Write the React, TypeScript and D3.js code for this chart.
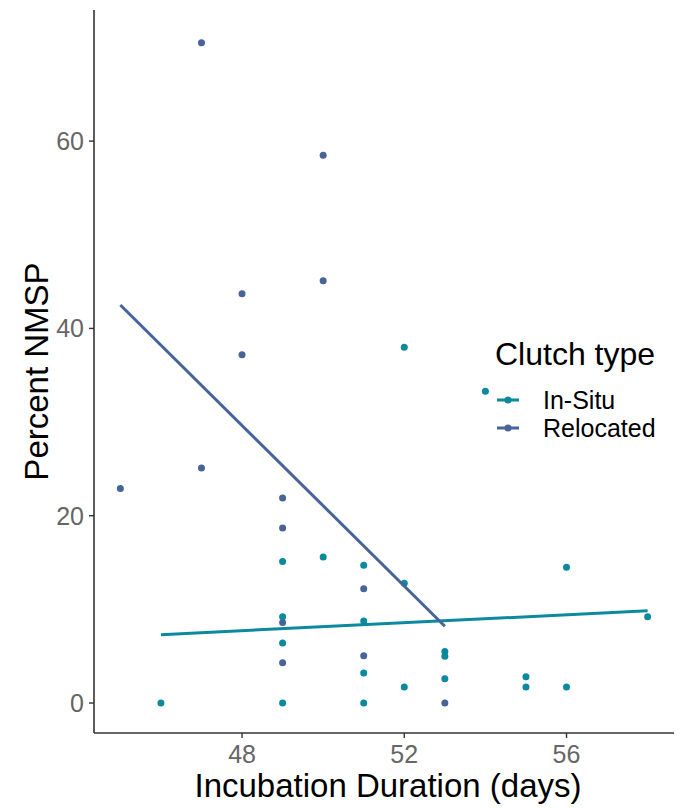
import React from 'react';
import * as d3 from 'd3';

// In-Situ clutches
const inSituX = [46, 49, 49, 49, 49, 50, 51, 51, 51, 51, 52, 52, 52, 53, 53, 53, 54, 55, 55, 56, 56, 58];
const inSituY = [0, 15.1, 9.2, 6.4, 0, 15.6, 14.7, 8.75, 3.2, 0, 38.0, 12.8, 1.7, 5.5, 5.0, 2.6, 33.3, 2.8, 1.7, 14.5, 1.7, 9.2];

// Relocated clutches
const relocX = [45, 47, 47, 48, 48, 49, 49, 49, 49, 50, 50, 51, 51, 53];
const relocY = [22.9, 70.5, 25.1, 43.7, 37.2, 21.9, 18.7, 8.6, 4.3, 58.5, 45.1, 12.2, 5.05, 0];

// fitted lines (lm), read at their ends
const inSituFitX = [46, 58];
const inSituFitY = [7.3, 9.85];
const relocFitX = [45, 53];
const relocFitY = [42.5, 8.2];

const xTicks = [48, 52, 56];
const yTicks = [0, 20, 40, 60];
const groups = ['In-Situ', 'Relocated'];
const colors = ['#0b8a9e', '#46649a'];

export default function App() {
  const width = 680;
  const height = 808;
  const left = 94, right = 674, top = 10, bottom = 733;

  const x = d3.scaleLinear().domain([44.35, 58.65]).range([left, right]);
  const y = d3.scaleLinear().domain([-3.2, 74]).range([bottom, top]);

  const line = d3.line<[number, number]>()
    .x(d => x(d[0]))
    .y(d => y(d[1]));

  const font = '"Liberation Sans", Arial, sans-serif';

  const series = [
    { xs: inSituX, ys: inSituY, fx: inSituFitX, fy: inSituFitY, color: colors[0] },
    { xs: relocX, ys: relocY, fx: relocFitX, fy: relocFitY, color: colors[1] },
  ];

  return (
    <div style={{ position: 'absolute', left: 0, top: 0 }}>
      <svg width={width} height={height} style={{ display: 'block', background: '#fff' }} fontFamily={font}>
        {/* relocated drawn first, in-situ on top */}
        {[series[1], series[0]].map((s, k) => (
          <g key={'p' + k}>
            {s.xs.map((v, i) => (
              <circle key={i} cx={x(v)} cy={y(s.ys[i])} r={3.5} fill={s.color} />
            ))}
          </g>
        ))}
        {series.map((s, k) => (
          <path key={'l' + k}
                d={line(s.fx.map((v, i) => [v, s.fy[i]] as [number, number])) || ''}
                fill="none" stroke={s.color} strokeWidth={3} />
        ))}

        {/* axes */}
        <line x1={left} x2={left} y1={top} y2={bottom} stroke="#333" strokeWidth={1.6} />
        <line x1={left} x2={right} y1={bottom} y2={bottom} stroke="#333" strokeWidth={1.6} />
        {yTicks.map(t => (
          <g key={'y' + t}>
            <line x1={left - 5} x2={left} y1={y(t)} y2={y(t)} stroke="#333" strokeWidth={1.4} />
            <text x={left - 10} y={y(t)} dy="0.36em" textAnchor="end" fontSize={25} fill="#666">{t}</text>
          </g>
        ))}
        {xTicks.map(t => (
          <g key={'x' + t}>
            <line x1={x(t)} x2={x(t)} y1={bottom} y2={bottom + 5} stroke="#333" strokeWidth={1.4} />
            <text x={x(t)} y={bottom + 30} textAnchor="middle" fontSize={25} fill="#666">{t}</text>
          </g>
        ))}

        <text x={(left + right) / 2 + 4} y={797} textAnchor="middle" fontSize={33} fill="#000">
          Incubation Duration (days)
        </text>
        <text transform={`translate(48,${(top + bottom) / 2}) rotate(-90)`} textAnchor="middle" fontSize={33} fill="#000">
          Percent NMSP
        </text>

        {/* legend */}
        <text x={495} y={365} fontSize={32} fill="#000">Clutch type</text>
        {groups.map((g, i) => (
          <g key={g}>
            <line x1={497} x2={519} y1={400 + i * 28} y2={400 + i * 28} stroke={colors[i]} strokeWidth={3} />
            <circle cx={508} cy={400 + i * 28} r={3.5} fill={colors[i]} />
            <text x={543} y={409 + i * 28} fontSize={25} fill="#000">{g}</text>
          </g>
        ))}
      </svg>
    </div>
  );
}
